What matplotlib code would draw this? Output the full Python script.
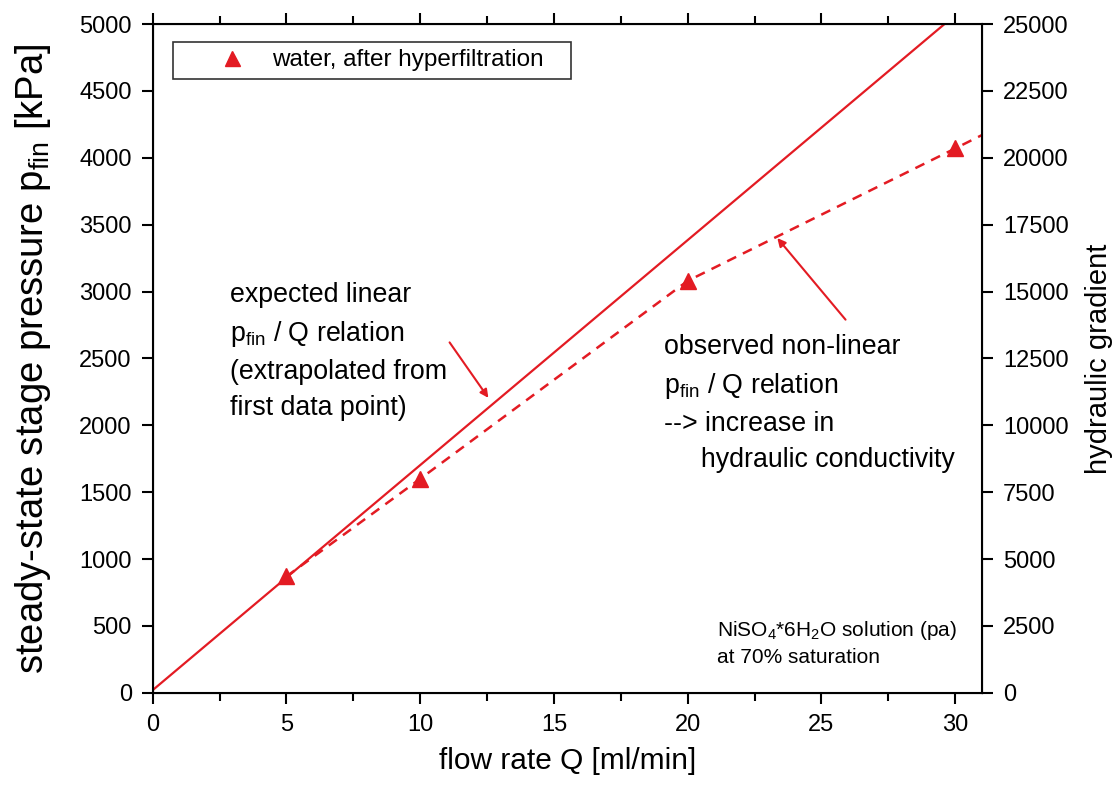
import matplotlib
matplotlib.use("Agg")
import matplotlib.pyplot as plt
from matplotlib.ticker import MultipleLocator

plt.rcParams["font.family"] = ["Liberation Sans", "DejaVu Sans"]
plt.rcParams["mathtext.default"] = "regular"

RED = "#e31b23"

# measured points (water, after hyperfiltration)
flow = [5, 10, 20, 30]
pressure = [870, 1600, 3080, 4070]

# expected linear relation, extrapolated from first point
lin_x = [0, 29.6]
lin_y = [20, 5000]

# observed non-linear relation (dashed)
obs_x = [5, 10, 20, 30, 31]
obs_y = [870, 1600, 3080, 4070, 4170]

fig = plt.figure(figsize=(11.14, 8.01), dpi=100)
ax = fig.add_axes([0.137, 0.135, 0.7445, 0.835])

ax.plot(lin_x, lin_y, color=RED, lw=1.6, solid_capstyle="butt")
ax.plot(obs_x, obs_y, color=RED, lw=1.8, ls=(0, (4, 3)))
ax.plot(flow, pressure, ls="none", marker="^", ms=12, color=RED, mec=RED,
        label="water, after hyperfiltration   ")

ax.set_xlim(0, 31)
ax.set_ylim(0, 5000)
ax.xaxis.set_major_locator(MultipleLocator(5))
ax.xaxis.set_minor_locator(MultipleLocator(2.5))
ax.yaxis.set_major_locator(MultipleLocator(500))
ax.tick_params(which="both", direction="out", top=True, labelsize=17,
               width=1.5, pad=7)
ax.tick_params(which="major", length=8)
ax.tick_params(which="minor", length=5.5)
ax.tick_params(axis="y", right=False)
for s in ax.spines.values():
    s.set_linewidth(1.5)

ax.set_xlabel("flow rate Q [ml/min]", fontsize=21.5, labelpad=8)
ax.set_ylabel("steady-state stage pressure p$_{fin}$ [kPa]", fontsize=27.5,
              labelpad=19)

ax2 = ax.twinx()
ax2.set_ylim(0, 25000)
ax2.yaxis.set_major_locator(MultipleLocator(2500))
ax2.tick_params(direction="out", labelsize=17, width=1.5, length=8, pad=7)
ax2.set_ylabel("hydraulic gradient", fontsize=21, labelpad=12)

leg = ax.legend(loc="upper left", bbox_to_anchor=(0.024, 0.973), fontsize=17.5,
                frameon=True, fancybox=False, edgecolor="black",
                handletextpad=-0.5, borderpad=0.3, markerscale=0.9,
                handlelength=4.3, borderaxespad=0)
leg.get_frame().set_linewidth(1.2)

ax.text(2.9, 2030,
        "expected linear\np$_{fin}$ / Q relation\n(extrapolated from\nfirst data point)",
        fontsize=19.3, va="bottom", ha="left", linespacing=1.5)
ax.annotate("", xy=(12.55, 2205), xytext=(11.1, 2620),
            arrowprops=dict(arrowstyle="-|>", color=RED, lw=1.5,
                            mutation_scale=12, shrinkA=0, shrinkB=0))

ax.text(19.1, 1640,
        "observed non-linear\np$_{fin}$ / Q relation\n--> increase in\n     hydraulic conductivity",
        fontsize=19.3, va="bottom", ha="left", linespacing=1.5)
ax.annotate("", xy=(23.35, 3400), xytext=(25.9, 2790),
            arrowprops=dict(arrowstyle="-|>", color=RED, lw=1.5,
                            mutation_scale=12, shrinkA=0, shrinkB=0))

ax.text(21.1, 195,
        "NiSO$_4$*6H$_2$O solution (pa)\nat 70% saturation",
        fontsize=15, va="bottom", ha="left", linespacing=1.4)

fig.savefig("out.png", dpi=100)
